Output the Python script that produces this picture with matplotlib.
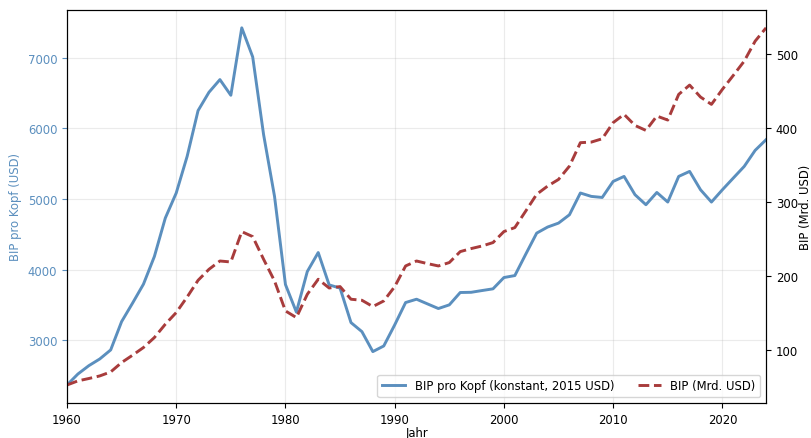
import matplotlib
matplotlib.use("Agg")
import matplotlib.pyplot as plt
import numpy as np

plt.rcParams["font.size"] = 8.4

years = list(range(1960, 2025))
gdp_pc = [2367, 2523, 2641, 2736, 2864, 3265, 3526, 3795, 4187, 4731,
          5086, 5605, 6253, 6513, 6692, 6470, 7425, 7014, 5912, 5038,
          3790, 3400, 3974, 4243, 3785, 3739, 3251, 3123, 2840, 2920,
          3218, 3535, 3582, 3516, 3450, 3502, 3677, 3680, 3705, 3729,
          3889, 3917, 4220, 4518, 4604, 4660, 4778, 5086, 5038, 5023,
          5250, 5321, 5062, 4920, 5094, 4958, 5321, 5392, 5132, 4958,
          5132, 5298, 5463, 5690, 5841]
gdp = [52, 57.6, 60.8, 64.3, 69.7, 82.4, 92.3, 102.7, 116.2, 134.2,
       150, 171, 193.6, 208.5, 219.7, 218.4, 259.4, 252.7, 222, 192.7,
       152.2, 143.2, 174.7, 195, 183.2, 185.1, 168, 166.6, 158.1, 165.7,
       185, 213, 219.7, 216.2, 213, 217.6, 232.4, 236.5, 240, 244.6,
       259.5, 264.9, 287.3, 309.9, 321, 330, 348, 379.7, 380.5, 385,
       406.8, 418, 403, 396.3, 415.7, 410.3, 445, 457.6, 441.4, 431.5,
       451.8, 470.7, 490, 517, 535]

blue = "#5b8fbe"
red = "#a83c3c"

fig = plt.figure(figsize=(8.11, 4.39), dpi=100)
ax = fig.add_axes([0.0826, 0.08, 0.862, 0.895])
ax2 = ax.twinx()

l1, = ax.plot(years, gdp_pc, color=blue, lw=2.1, label="BIP pro Kopf (konstant, 2015 USD)")
l2, = ax2.plot(years, gdp, color=red, lw=2.1, ls="--", label="BIP (Mrd. USD)")

ax.set_xlim(1960, 2024)
ax.grid(True, alpha=0.25)
ax.set_xlabel("Jahr", labelpad=0)
ax.set_ylabel("BIP pro Kopf (USD)", color=blue)
ax.tick_params(axis="y", colors=blue)
ax2.set_ylabel("BIP (Mrd. USD)", labelpad=1)

ax.legend([l1, l2], [l1.get_label(), l2.get_label()], loc="lower right", ncol=2)

fig.savefig("out.png", dpi=100)
